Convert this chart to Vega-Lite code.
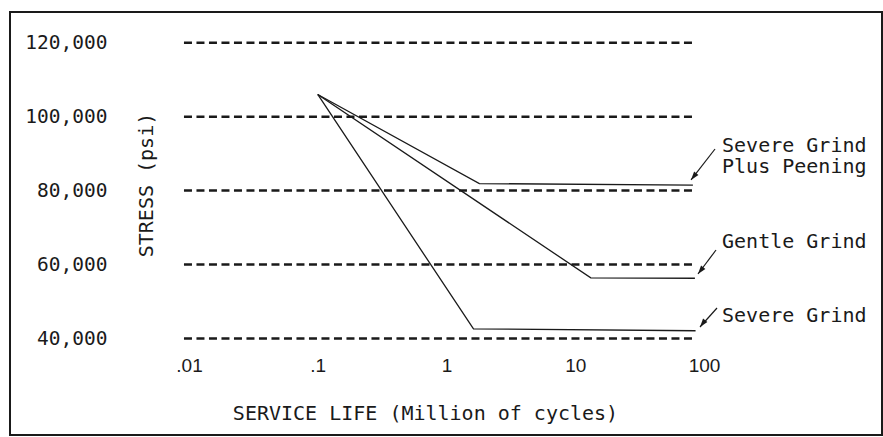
{
  "$schema": "https://vega.github.io/schema/vega-lite/v6.json",
  "width": 872,
  "height": 423,
  "autosize": {"type": "none"},
  "padding": {"left": 10, "top": 12, "right": 1, "bottom": 2},
  "background": "white",
  "config": {
    "view": {"stroke": "#1a1a1a", "strokeWidth": 2},
    "font": "DejaVu Sans Mono"
  },
  "datasets": {
    "grid": [
      {"stress": 120000, "life": 0.00914, "life2": 85.6},
      {"stress": 100000, "life": 0.00914, "life2": 85.6},
      {"stress": 80000, "life": 0.00914, "life2": 85.6},
      {"stress": 60000, "life": 0.00914, "life2": 85.6},
      {"stress": 40000, "life": 0.00914, "life2": 85.6}
    ],
    "curves": [
      {"series": "Severe Grind Plus Peening", "life": 0.1, "stress": 106000},
      {"series": "Severe Grind Plus Peening", "life": 1.8, "stress": 81900},
      {"series": "Severe Grind Plus Peening", "life": 82, "stress": 81500},
      {"series": "Gentle Grind", "life": 0.1, "stress": 106000},
      {"series": "Gentle Grind", "life": 13.2, "stress": 56400},
      {"series": "Gentle Grind", "life": 85, "stress": 56300},
      {"series": "Severe Grind", "life": 0.1, "stress": 106000},
      {"series": "Severe Grind", "life": 1.62, "stress": 42600},
      {"series": "Severe Grind", "life": 86, "stress": 42100}
    ],
    "arrows": [
      {"series": "Severe Grind Plus Peening", "life": 121.8, "stress": 91250},
      {"series": "Severe Grind Plus Peening", "life": 79.3, "stress": 82870},
      {"series": "Gentle Grind", "life": 124, "stress": 63935},
      {"series": "Gentle Grind", "life": 89.8, "stress": 57444},
      {"series": "Severe Grind", "life": 126.2, "stress": 48250},
      {"series": "Severe Grind", "life": 93.1, "stress": 43110}
    ],
    "tips": [
      {"series": "Severe Grind Plus Peening", "life": 79.3, "stress": 82870},
      {"series": "Gentle Grind", "life": 89.8, "stress": 57444},
      {"series": "Severe Grind", "life": 93.1, "stress": 43110}
    ],
    "notes": [
      {"label": "Severe Grind", "life": 138, "stress": 90520},
      {"label": "Plus Peening", "life": 138, "stress": 84680},
      {"label": "Gentle Grind", "life": 138, "stress": 64395},
      {"label": "Severe Grind", "life": 138, "stress": 44540}
    ]
  },
  "encoding": {
    "x": {
      "field": "life",
      "type": "quantitative",
      "scale": {"type": "log", "domain": [0.0004071, 2413]},
      "axis": {
        "title": "SERVICE LIFE (Million of cycles)",
        "values": [0.01, 0.1, 1, 10, 100],
        "labelExpr": "datum.value < 0.05 ? '.01' : datum.value < 0.5 ? '.1' : format(datum.value, 'd')",
        "offset": -79,
        "domain": false,
        "ticks": false,
        "tickSize": 0,
        "labelPadding": 0,
        "grid": false,
        "labelFont": "Liberation Sans",
        "labelFontSize": 19,
        "labelColor": "#1a1a1a",
        "labelBaseline": "top",
        "labelFlush": false,
        "labelOverlap": false,
        "titleFont": "DejaVu Sans Mono",
        "titleFontSize": 20,
        "titleFontWeight": "normal",
        "titleColor": "#1a1a1a",
        "titleX": 415,
        "titleY": 63,
        "titleAlign": "center",
        "titleBaseline": "alphabetic"
      }
    },
    "y": {
      "field": "stress",
      "type": "quantitative",
      "scale": {"domain": [13901, 128303], "zero": false, "nice": false},
      "axis": {
        "title": "STRESS (psi)",
        "values": [40000, 60000, 80000, 100000, 120000],
        "format": ",d",
        "offset": -97,
        "domain": false,
        "ticks": false,
        "tickSize": 0,
        "labelPadding": 0,
        "grid": false,
        "labelFont": "DejaVu Sans Mono",
        "labelFontSize": 19.5,
        "labelColor": "#1a1a1a",
        "labelFlush": false,
        "labelOverlap": false,
        "titleFont": "DejaVu Sans Mono",
        "titleFontSize": 20,
        "titleFontWeight": "normal",
        "titleColor": "#1a1a1a",
        "titleX": 45,
        "titleY": 172.5,
        "titleAngle": -90,
        "titleAlign": "center",
        "titleBaseline": "alphabetic"
      }
    }
  },
  "layer": [
    {
      "data": {"name": "grid"},
      "mark": {"type": "rule", "strokeDash": [8, 4.5], "strokeWidth": 2.5, "color": "#1a1a1a"},
      "encoding": {"x2": {"field": "life2"}}
    },
    {
      "data": {"name": "curves"},
      "mark": {"type": "line", "strokeWidth": 1.3, "color": "#1a1a1a"},
      "encoding": {"detail": {"field": "series"}}
    },
    {
      "data": {"name": "arrows"},
      "mark": {"type": "line", "strokeWidth": 1.2, "color": "#1a1a1a"},
      "encoding": {"detail": {"field": "series"}}
    },
    {
      "data": {"name": "tips"},
      "mark": {"type": "point", "filled": true, "shape": "M0,0L0.55,1.7L-0.55,1.7Z", "size": 100, "angle": 218, "color": "#1a1a1a", "opacity": 1}
    },
    {
      "data": {"name": "notes"},
      "mark": {"type": "text", "align": "left", "baseline": "alphabetic", "font": "DejaVu Sans Mono", "fontSize": 20, "color": "#1a1a1a"},
      "encoding": {"text": {"field": "label"}}
    }
  ]
}
